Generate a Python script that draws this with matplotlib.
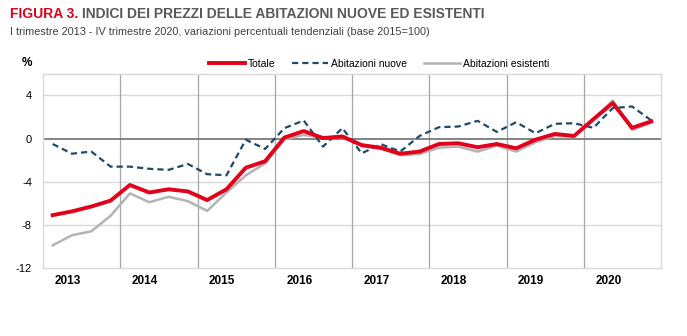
import matplotlib.pyplot as plt
import numpy as np

plt.rcParams['font.family'] = ['Liberation Sans Narrow', 'Liberation Sans', 'DejaVu Sans']

# quarterly data, I trim 2013 - IV trim 2020
years = ['2013', '2014', '2015', '2016', '2017', '2018', '2019', '2020']
totale = [-7.1, -6.75, -6.3, -5.75, -4.3, -5.0, -4.7, -4.9,
          -5.7, -4.7, -2.7, -2.1, 0.1, 0.7, 0.05, 0.2,
          -0.6, -0.85, -1.4, -1.2, -0.5, -0.43, -0.8, -0.5,
          -0.9, -0.1, 0.43, 0.25, 1.8, 3.3, 1.0, 1.6]
nuove = [-0.5, -1.4, -1.2, -2.6, -2.6, -2.8, -2.9, -2.35,
         -3.3, -3.4, -0.1, -0.96, 0.97, 1.68, -0.74, 0.97,
         -1.36, -0.52, -1.2, 0.25, 1.06, 1.12, 1.65, 0.62,
         1.52, 0.5, 1.37, 1.43, 1.0, 2.83, 2.98, 1.68]
esistenti = [-9.9, -8.96, -8.6, -7.16, -5.08, -5.9, -5.4, -5.8,
             -6.7, -5.0, -3.4, -2.3, -0.06, 0.34, 0.1, 0.1,
             -0.68, -0.96, -1.55, -1.43, -0.84, -0.74, -1.2, -0.65,
             -1.2, -0.34, 0.25, 0.19, 1.8, 3.54, 0.8, 1.49]

x = np.arange(len(totale)) + 0.5

fig = plt.figure(figsize=(6.87, 3.36), dpi=100)
ax = fig.add_axes([0.0626, 0.2024, 0.8996, 0.5776])

ax.plot(x, esistenti, color='#b3b3b3', lw=1.8, label='Abitazioni esistenti', zorder=3)
ax.plot(x, nuove, color='#1d4a6a', lw=1.6, ls=(0, (2.8, 1.8)), label='Abitazioni nuove', zorder=4)
ax.plot(x, totale, color='#e2001a', lw=2.8, label='Totale', zorder=5)

ax.set_xlim(0, 32)
ax.set_ylim(-12, 6)
ax.set_yticks([-12, -8, -4, 0, 4])
ax.set_yticklabels(['-12', '-8', '-4', '0', '4'])
ax.tick_params(axis='y', length=0, pad=8, labelsize=8)

ax.set_xticks([4 * i + 0.6 for i in range(len(years))])
ax.set_xticklabels(years, fontweight='bold', fontsize=8.5, ha='left')
ax.tick_params(axis='x', length=0, pad=5)

for yv in [4, -4, -8]:
    ax.axhline(yv, color='#d9d9d9', lw=1.0, zorder=1)
ax.axhline(0, color='#6e6e6e', lw=1.2, zorder=2)
for i in range(1, len(years)):
    ax.axvline(4 * i, color='#a6a6a6', lw=0.9, zorder=1)

for s in ax.spines.values():
    s.set_color('#d9d9d9')
    s.set_linewidth(1.0)

h, l = ax.get_legend_handles_labels()
order = [2, 1, 0]
ax.legend([h[i] for i in order], [l[i] for i in order], loc='lower left',
          bbox_to_anchor=(0.258, 0.995), ncol=3, frameon=False, fontsize=7.5,
          handlelength=3.45, columnspacing=1.6, handletextpad=0.3, borderaxespad=0.2)

fig.text(0.0395, 0.805, '%', fontsize=8.5, fontweight='bold', ha='center')

# title in two colours, second part placed after the first
t1 = fig.text(0.014, 0.945, 'FIGURA 3.', color='#e2001a', fontsize=10, fontweight='bold')
fig.canvas.draw()
bb = t1.get_window_extent()
x2 = (bb.x1 + 4) / fig.bbox.width
fig.text(x2, 0.945, 'INDICI DEI PREZZI DELLE ABITAZIONI NUOVE ED ESISTENTI',
         color='#58595b', fontsize=10, fontweight='bold')
fig.text(0.014, 0.895, 'I trimestre 2013 - IV trimestre 2020, variazioni percentuali tendenziali (base 2015=100)',
         color='#404040', fontsize=7.8)

fig.savefig('out.png', dpi=100)
